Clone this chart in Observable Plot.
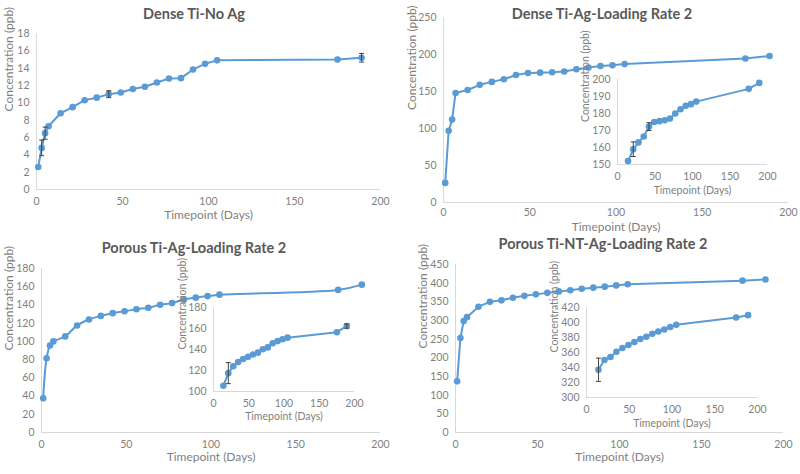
<!DOCTYPE html>
<html><head><meta charset="utf-8">
<script src="https://cdn.jsdelivr.net/npm/d3@7"></script>
<script src="https://cdn.jsdelivr.net/npm/@observablehq/plot@0.6"></script>
<style>
body{margin:0;background:#fff;}
#wrap{position:relative;width:800px;height:474px;overflow:hidden;background:#fff;font-family:Lato, sans-serif;}
.pane{position:absolute;}
.title{position:absolute;transform:translate(-50%,-50%);font-weight:bold;font-size:14.5px;color:#595959;white-space:nowrap;font-family:Lato, sans-serif;}
</style></head><body><div id="wrap"></div><script>
// Timepoints (days)
const days = [1,3,5,7,14,21,28,35,42,49,56,63,70,77,84,91,98,105,175,189];
const xTicks = [0,50,100,150,200];

// Dense Ti-No Ag
const denseNoAg    = [2.6,4.8,6.5,7.3,8.8,9.5,10.3,10.6,11.0,11.2,11.6,11.85,12.35,12.8,12.85,13.85,14.5,14.9,15.0,15.2];
const denseNoAgErr = [0,0.9,0.7,0,0,0,0,0,0.4,0,0,0,0,0,0,0,0,0,0,0.5];

// Dense Ti-Ag-Loading Rate 2
const denseAg    = [26.5,97,112,148,152,159,163,166.5,172.3,175,175.5,176,177,180,182.5,184.5,185.5,187,194.5,198];
const denseAgErr = [0,0,0,0,0,4.3,0,0,2.3,0,0,0,0,0,0,0,0,0,0,0];

// Porous Ti-Ag-Loading Rate 2
const porousAg    = [37.5,81.5,95.5,100,105.5,117.5,124,128,131,133,135.3,137,140.2,142,146,148,149.7,151.3,156.5,162.3];
const porousAgErr = [0,0,0,0,0,10,0,0,0,0,0,0,0,0,0,0,0,0,0,2];

// Porous Ti-NT-Ag-Loading Rate 2
const porousNT    = [137,253,298.5,309,337,350,354,361,366,370,374,378,381,385,388,390.7,394,397,406.7,409.8];
const porousNTErr = [0,0,0,0,15.5,0,0,0,0,0,0,0,0,0,0,0,0,0,0,0];

const titles = ["Dense Ti-No Ag","Dense Ti-Ag-Loading Rate 2","Porous Ti-Ag-Loading Rate 2","Porous Ti-NT-Ag-Loading Rate 2"];
const yLabel = "Concentration (ppb)";
const xLabel = "Timepoint (Days)";

const BLUE = "#5B9BD5", AXIS = "#D9D9D9", TXT = "#7F7F7F", ERR = "#404040";
const cap = {draw(ctx, size){ const w = Math.sqrt(size); ctx.moveTo(-w,0); ctx.lineTo(w,0); }};
const wrap = document.getElementById("wrap");

function chart(o){
  const rows = days.map((d,i)=>({x:d, y:o.values[i], e:o.errors[i]})).filter(r=>r.x>=o.xMin);
  const er = o.showErr ? rows.filter(r=>r.e>0) : [];
  const fs = o.labelSize || 12;
  const p = Plot.plot({
    width:o.w, height:o.h, marginLeft:o.ml, marginRight:o.mr, marginTop:o.mt, marginBottom:o.mb,
    style:{fontFamily:"Lato, sans-serif", fontSize:"10.5px", color:TXT, background:"transparent", overflow:"visible"},
    x:{domain:[0,200], ticks:xTicks, tickSize:0, tickPadding:o.xPad ?? 8, label:null},
    y:{domain:o.yDomain, ticks:o.yTicks, tickSize:0, tickPadding:7, label:null},
    marks:[
      Plot.ruleY([o.yDomain[0]], {stroke:AXIS, strokeWidth:1}),
      Plot.ruleX([0], {stroke:AXIS, strokeWidth:1}),
      Plot.line(rows, {x:"x", y:"y", stroke:BLUE, strokeWidth:2, curve:o.curve||"linear"}),
      Plot.dot(rows, {x:"x", y:"y", fill:BLUE, r:3.3}),
      Plot.ruleX(er, {x:"x", y1:d=>d.y-d.e, y2:d=>d.y+d.e, stroke:ERR, strokeWidth:1}),
      Plot.dot(er, {x:"x", y:d=>d.y-d.e, symbol:cap, stroke:ERR, strokeWidth:1, r:1.4}),
      Plot.dot(er, {x:"x", y:d=>d.y+d.e, symbol:cap, stroke:ERR, strokeWidth:1, r:1.4}),
      Plot.text([yLabel], {text:d=>d, frameAnchor:"left", dx:-o.yOff, rotate:-90, fill:TXT, fontSize:fs}),
      Plot.text([xLabel], {text:d=>d, frameAnchor:"bottom", dy:o.xOff, fill:TXT, fontSize:fs})
    ]
  });
  const div = document.createElement("div");
  div.className = "pane";
  div.style.left = o.left+"px"; div.style.top = o.top+"px";
  div.style.width = o.w+"px"; div.style.height = o.h+"px";
  div.appendChild(p);
  wrap.appendChild(div);
}
function title(t, x, y){
  const d = document.createElement("div");
  d.className = "title"; d.textContent = t;
  d.style.left = x+"px"; d.style.top = y+"px";
  wrap.appendChild(d);
}

// Main panels
chart({left:0, top:0, w:400, h:230, ml:36, mr:20, mt:33, mb:41, xMin:0, showErr:true,
  values:denseNoAg, errors:denseNoAgErr, yDomain:[0,18], yTicks:d3.range(0,19,2), yOff:27, xOff:29});
chart({left:400, top:0, w:400, h:230, ml:43, mr:12, mt:17, mb:28, xMin:0, showErr:false, xPad:6,
  values:denseAg, errors:denseAgErr, yDomain:[0,250], yTicks:d3.range(0,251,50), yOff:31, xOff:28});
chart({left:0, top:230, w:400, h:244, ml:41, mr:20, mt:38, mb:42, xMin:0, showErr:false, curve:"catmull-rom",
  values:porousAg, errors:porousAgErr, yDomain:[0,180], yTicks:d3.range(0,181,20), yOff:32, xOff:28});
chart({left:400, top:230, w:400, h:244, ml:55, mr:17, mt:34, mb:42, xMin:0, showErr:false,
  values:porousNT, errors:porousNTErr, yDomain:[0,450], yTicks:d3.range(0,451,50), yOff:32, xOff:28});

// Insets
chart({left:570, top:60, w:210, h:140, ml:47, mr:13, mt:19, mb:36, xMin:14, showErr:true, labelSize:10.5,
  values:denseAg, errors:denseAgErr, yDomain:[150,200], yTicks:d3.range(150,201,10), yOff:32, xOff:29});
chart({left:160, top:290, w:210, h:140, ml:53, mr:16, mt:17, mb:39, xMin:14, showErr:true, labelSize:10.5,
  values:porousAg, errors:porousAgErr, yDomain:[100,180], yTicks:d3.range(100,181,20), yOff:31, xOff:28});
chart({left:530, top:290, w:240, h:150, ml:56, mr:13, mt:17, mb:43, xMin:14, showErr:true, labelSize:10.5,
  values:porousNT, errors:porousNTErr, yDomain:[300,420], yTicks:d3.range(300,421,20), yOff:32, xOff:29});

title(titles[0], 194, 13);
title(titles[1], 602, 13);
title(titles[2], 194, 247);
title(titles[3], 603, 243);
</script></body></html>
